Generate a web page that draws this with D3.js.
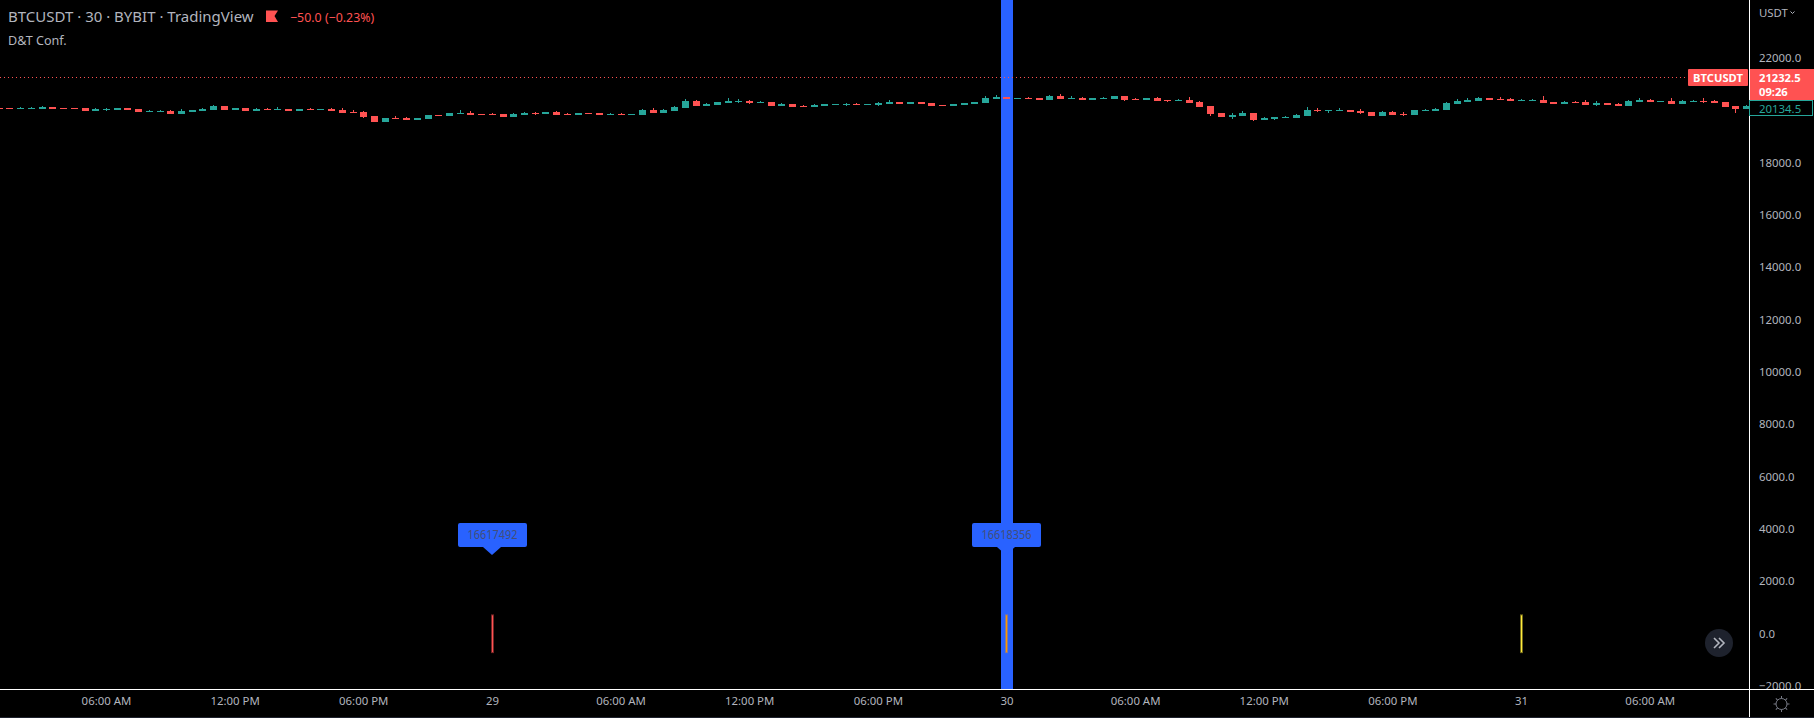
<!DOCTYPE html>
<html>
<head>
<meta charset="utf-8">
<title>BTCUSDT</title>
<script src="https://cdn.jsdelivr.net/npm/d3@7"></script>
<style>
  html, body { margin: 0; padding: 0; background: #000; overflow: hidden; }
  svg { display: block; }
  text { font-family: "Noto Sans", sans-serif; }
  .axis text { font-size: 11.4px; fill: #b2b5be; font-family: "Noto Sans", sans-serif; }
</style>
</head>
<body>
<div id="chart"></div>
<script>
// 30 min candles, index 0 is the first bar at the left edge
const opens = [20050,20050,20012,20012,20012,20088,20050,20050,20050,19935,19973,19973,20050,20012,19897,19897,19935,19821,19897,19935,19973,20126,19973,20050,19935,20012,19973,20012,19935,20012,19973,20012,19973,19897,19897,19744,19515,19668,19668,19591,19630,19782,19744,19821,19859,19821,19821,19821,19706,19782,19859,19821,19897,19821,19782,19859,19859,19782,19821,19782,19782,19973,19859,19935,20050,20317,20126,20164,20241,20279,20317,20241,20279,20126,20203,20126,20088,20126,20164,20164,20203,20164,20164,20203,20279,20203,20279,20241,20164,20126,20164,20203,20241,20394,20470,20394,20432,20432,20355,20508,20394,20432,20355,20394,20394,20508,20394,20355,20432,20355,20317,20355,20279,20126,19859,19706,19744,19859,19591,19630,19668,19668,19744,19973,19935,19935,19973,19935,19897,19744,19897,19821,19782,19935,19935,19973,20203,20279,20317,20432,20394,20394,20317,20317,20355,20279,20203,20279,20279,20164,20241,20203,20126,20279,20355,20279,20317,20203,20279,20317,20317,20279,20126,20012]
const highs = [20050,20050,20088,20088,20126,20088,20050,20050,20050,20050,20050,20050,20050,20012,19973,19973,19973,20012,19973,20050,20164,20126,20050,20050,20050,20050,20088,20012,20012,20050,20012,20050,20050,19973,19935,19744,19668,19744,19706,19668,19782,19782,19859,19973,19935,19821,19859,19821,19859,19897,19897,19897,19935,19859,19859,19859,19859,19859,19859,19821,20012,20050,20012,20126,20394,20355,20241,20279,20432,20394,20355,20317,20279,20241,20203,20164,20203,20203,20203,20241,20241,20203,20279,20355,20279,20279,20279,20241,20164,20203,20241,20279,20508,20546,20470,20432,20470,20432,20546,20585,20508,20470,20432,20470,20508,20508,20432,20432,20470,20355,20394,20470,20317,20126,19859,19859,19935,19859,19706,19706,19744,19821,20088,20050,19973,20050,19973,20012,19897,19935,19935,19897,19973,20012,20050,20279,20394,20432,20470,20432,20470,20432,20394,20394,20508,20279,20317,20317,20355,20317,20241,20241,20355,20432,20394,20317,20432,20355,20355,20432,20355,20279,20126,20164]
const lows = [20012,20012,20012,20012,20012,20012,20012,20012,19935,19935,19935,19973,19973,19897,19897,19897,19821,19821,19897,19935,19973,19973,19973,19935,19935,19973,19973,19935,19935,19973,19973,19935,19859,19859,19668,19515,19515,19630,19591,19591,19630,19744,19744,19821,19782,19782,19782,19706,19706,19782,19782,19821,19782,19782,19782,19821,19782,19782,19782,19782,19782,19859,19859,19935,20050,20126,20126,20164,20241,20241,20203,20241,20126,20126,20088,20088,20088,20126,20164,20126,20164,20164,20126,20203,20203,20203,20203,20126,20126,20126,20164,20203,20241,20394,20394,20394,20394,20355,20355,20394,20394,20355,20355,20394,20394,20317,20355,20355,20317,20279,20317,20241,20088,19744,19706,19630,19744,19553,19591,19591,19668,19668,19744,19897,19859,19935,19897,19821,19744,19744,19782,19744,19782,19935,19935,19973,20203,20279,20317,20355,20355,20317,20317,20317,20241,20203,20203,20241,20164,20126,20164,20126,20126,20279,20279,20279,20203,20203,20279,20241,20241,20088,19859,20012]
const closes = [20012,20012,20050,20050,20088,20012,20012,20012,19935,20012,20012,20050,19973,19897,19935,19935,19821,19935,19973,20012,20126,19973,20050,19935,20012,19973,20012,19935,20012,19973,20012,19935,19859,19859,19706,19515,19668,19630,19591,19668,19782,19744,19859,19859,19782,19782,19782,19706,19821,19859,19821,19897,19782,19782,19859,19821,19782,19821,19782,19821,19973,19859,19973,20088,20317,20126,20203,20279,20317,20317,20241,20279,20126,20203,20088,20088,20164,20203,20203,20203,20164,20203,20241,20279,20203,20279,20203,20126,20126,20203,20241,20279,20432,20470,20394,20432,20394,20355,20508,20394,20432,20355,20432,20432,20508,20355,20355,20432,20317,20317,20355,20241,20088,19821,19706,19782,19859,19591,19668,19706,19706,19782,19973,19935,19973,19973,19897,19859,19744,19897,19782,19782,19973,19973,20012,20241,20317,20355,20432,20355,20355,20317,20355,20355,20241,20203,20279,20241,20164,20241,20164,20126,20317,20355,20279,20317,20203,20317,20317,20279,20241,20088,20012,20134.5]

const priceTicks = [22000,20000,18000,16000,14000,12000,10000,8000,6000,4000,2000,0,-2000]
const timeIdx = [10,22,34,46,58,70,82,94,106,118,130,142,154]
const timeLabels = ['06:00 AM','12:00 PM','06:00 PM','29','06:00 AM','12:00 PM','06:00 PM','30','06:00 AM','12:00 PM','06:00 PM','31','06:00 AM']

// the three signals near zero, and their flags
const signalIdx = [46,94,142]
const signalColors = ['#ff5252','#ff9800','#ffeb3b']
const signalTop = 700
const signalBottom = -780
const flagIdx = [46,94]
const flagTexts = ['16617492','16618356']
const bandIdx = 94

const lastPrice = 21232.5
const width = 1814
const height = 718
const paneRight = 1749
const paneBottom = 689
const up = '#26a69a'
const down = '#ff5252'
const blue = '#2962ff'

const x = d3.scaleLinear().domain([0, 163]).range([-1.25, 1746.2])
const y = d3.scaleLinear().domain([0, 22000]).range([632.7, 57])

const svg = d3.select('#chart').append('svg')
  .attr('width', width)
  .attr('height', height)
svg.append('rect').attr('width', width).attr('height', height).attr('fill', '#000')

const pane = svg.append('g')

// highlighted bar
pane.append('rect')
  .attr('x', Math.round(x(bandIdx)) - 5)
  .attr('y', 0)
  .attr('width', 12)
  .attr('height', paneBottom)
  .attr('fill', blue)

// last price line
pane.append('line')
  .attr('x1', 0)
  .attr('x2', 1688)
  .attr('y1', Math.round(y(lastPrice)) + 0.5)
  .attr('y2', Math.round(y(lastPrice)) + 0.5)
  .attr('stroke', down)
  .attr('stroke-dasharray', '1 3')

// candles
const candles = pane.selectAll('g.candle')
  .data(opens.map(function (o, i) { return i }))
  .enter()
  .append('g')
  .attr('class', 'candle')
  .attr('fill', function (i) { return closes[i] >= opens[i] ? up : down })

candles.append('rect')
  .attr('x', function (i) { return Math.round(x(i)) })
  .attr('width', 1)
  .attr('y', function (i) { return Math.round(y(highs[i])) })
  .attr('height', function (i) { return Math.round(y(lows[i])) - Math.round(y(highs[i])) })

candles.append('rect')
  .attr('x', function (i) { return Math.round(x(i)) - 3 })
  .attr('width', 7)
  .attr('y', function (i) { return Math.round(y(Math.max(opens[i], closes[i]))) })
  .attr('height', function (i) {
    return Math.round(y(Math.min(opens[i], closes[i]))) - Math.round(y(Math.max(opens[i], closes[i])))
  })

// signals, a soft edge round a solid core
pane.selectAll('rect.signalEdge')
  .data(signalIdx)
  .enter()
  .append('rect')
  .attr('class', 'signalEdge')
  .attr('x', function (d) { return Math.round(x(d)) - 1 })
  .attr('width', 3)
  .attr('y', y(signalTop))
  .attr('height', y(signalBottom) - y(signalTop))
  .attr('fill', function (d, i) { return signalColors[i] })
  .attr('opacity', 0.45)

pane.selectAll('rect.signal')
  .data(signalIdx)
  .enter()
  .append('rect')
  .attr('class', 'signal')
  .attr('x', function (d) { return Math.round(x(d)) })
  .attr('width', 1)
  .attr('y', y(signalTop) + 1)
  .attr('height', y(signalBottom) - y(signalTop) - 2)
  .attr('fill', function (d, i) { return signalColors[i] })

// flags
const flags = pane.selectAll('g.flag')
  .data(flagIdx)
  .enter()
  .append('g')
  .attr('class', 'flag')
  .attr('transform', function (d) { return 'translate(' + Math.round(x(d)) + ',523)' })

flags.append('path')
  .attr('d', 'M-34,2a2,2 0 0 1 2,-2H33a2,2 0 0 1 2,2V22a2,2 0 0 1 -2,2H9L0,32L-9,24H-32a2,2 0 0 1 -2,-2Z')
  .attr('fill', blue)

flags.append('text')
  .attr('x', 0.5)
  .attr('y', 16)
  .attr('text-anchor', 'middle')
  .attr('font-size', 12)
  .attr('textLength', 50)
  .attr('lengthAdjust', 'spacingAndGlyphs')
  .attr('fill', '#434e78')
  .text(function (d, i) { return flagTexts[i] })

// go to realtime button
const jump = pane.append('g').attr('transform', 'translate(1719,643)')
jump.append('circle').attr('r', 14).attr('fill', '#1e222d')
jump.append('path')
  .attr('d', 'M-5,-5L0,0L-5,5M0,-5L5,0L0,5')
  .attr('fill', 'none')
  .attr('stroke', '#b2b5be')
  .attr('stroke-width', 1.6)

// axes sit on top of the pane
const axisBg = svg.append('g')
axisBg.append('rect').attr('x', paneRight).attr('y', 0).attr('width', width - paneRight).attr('height', height).attr('fill', '#000')

const yAxis = d3.axisRight(y)
  .tickValues(priceTicks)
  .tickSize(0)
  .tickPadding(10)
  .tickFormat(d3.format('.1f'))

svg.append('g')
  .attr('class', 'axis')
  .attr('transform', 'translate(' + paneRight + ',0)')
  .call(yAxis)
  .call(function (g) { g.select('.domain').remove() })
  .call(function (g) { g.selectAll('text').attr('dy', '0.4em') })

const timeBar = svg.append('g')
timeBar.append('rect').attr('x', 0).attr('y', paneBottom).attr('width', width).attr('height', height - paneBottom).attr('fill', '#000')
timeBar.append('rect').attr('x', 0).attr('y', 717).attr('width', width).attr('height', 1).attr('fill', '#1e222d')

const xAxis = d3.axisBottom(x)
  .tickValues(timeIdx)
  .tickSize(0)
  .tickPadding(8)
  .tickFormat(function (d, i) { return timeLabels[i] })

svg.append('g')
  .attr('class', 'axis')
  .attr('transform', 'translate(0,' + paneBottom + ')')
  .call(xAxis)
  .call(function (g) { g.select('.domain').remove() })

// frame lines
svg.append('rect').attr('x', paneRight).attr('y', 0).attr('width', 1).attr('height', height - 1).attr('fill', '#fff')
svg.append('rect').attr('x', 0).attr('y', paneBottom).attr('width', width).attr('height', 1).attr('fill', '#fff')

// currency
svg.append('text').attr('x', 1759).attr('y', 16.5).attr('font-size', 11.4).attr('fill', '#b2b5be').text('USDT')
svg.append('path')
  .attr('d', 'M1790.5,11.5L1792.5,13.5L1794.5,11.5')
  .attr('fill', 'none')
  .attr('stroke', '#b2b5be')

// price labels
svg.append('rect').attr('x', 1688).attr('y', 69).attr('width', 60).attr('height', 17).attr('rx', 1).attr('fill', down)
svg.append('text').attr('x', 1718).attr('y', 82).attr('text-anchor', 'middle').attr('font-size', 11.2).attr('font-weight', 700).attr('fill', '#fff').text('BTCUSDT')
svg.append('rect').attr('x', paneRight + 1).attr('y', 69).attr('width', 64).attr('height', 31).attr('fill', down)
svg.append('text').attr('x', 1759).attr('y', 82).attr('font-size', 11.2).attr('font-weight', 700).attr('fill', '#fff').text(d3.format('.1f')(lastPrice))
svg.append('text').attr('x', 1759).attr('y', 96).attr('font-size', 11.2).attr('font-weight', 700).attr('fill', '#fff').text('09:26')
svg.append('rect').attr('x', paneRight + 0.5).attr('y', 100.5).attr('width', 63).attr('height', 15).attr('fill', '#000').attr('stroke', up)
svg.append('text').attr('x', 1759).attr('y', 113).attr('font-size', 11.4).attr('fill', up).text(d3.format('.1f')(closes[closes.length - 1]))

// legend
svg.append('text').attr('x', 8).attr('y', 22).attr('font-size', 15).attr('fill', '#b2b5be').text('BTCUSDT · 30 · BYBIT · TradingView')
svg.append('path').attr('d', 'M266,10.5H278L274.5,16L278,22H266Z').attr('fill', down)
svg.append('text').attr('x', 290).attr('y', 21.5).attr('font-size', 12.4).attr('fill', down).text('−50.0 (−0.23%)')
svg.append('text').attr('x', 8).attr('y', 45).attr('font-size', 12.6).attr('fill', '#b2b5be').text('D&T Conf.')

// settings icon
const sun = svg.append('g').attr('transform', 'translate(1781.5,704)').attr('stroke', '#787b86').attr('fill', 'none')
sun.append('circle').attr('r', 5.5)
sun.selectAll('line')
  .data([0, 45, 90, 135, 180, 225, 270, 315])
  .enter()
  .append('line')
  .attr('y1', -5.5)
  .attr('y2', -8)
  .attr('transform', function (d) { return 'rotate(' + d + ')' })
</script>
</body>
</html>
